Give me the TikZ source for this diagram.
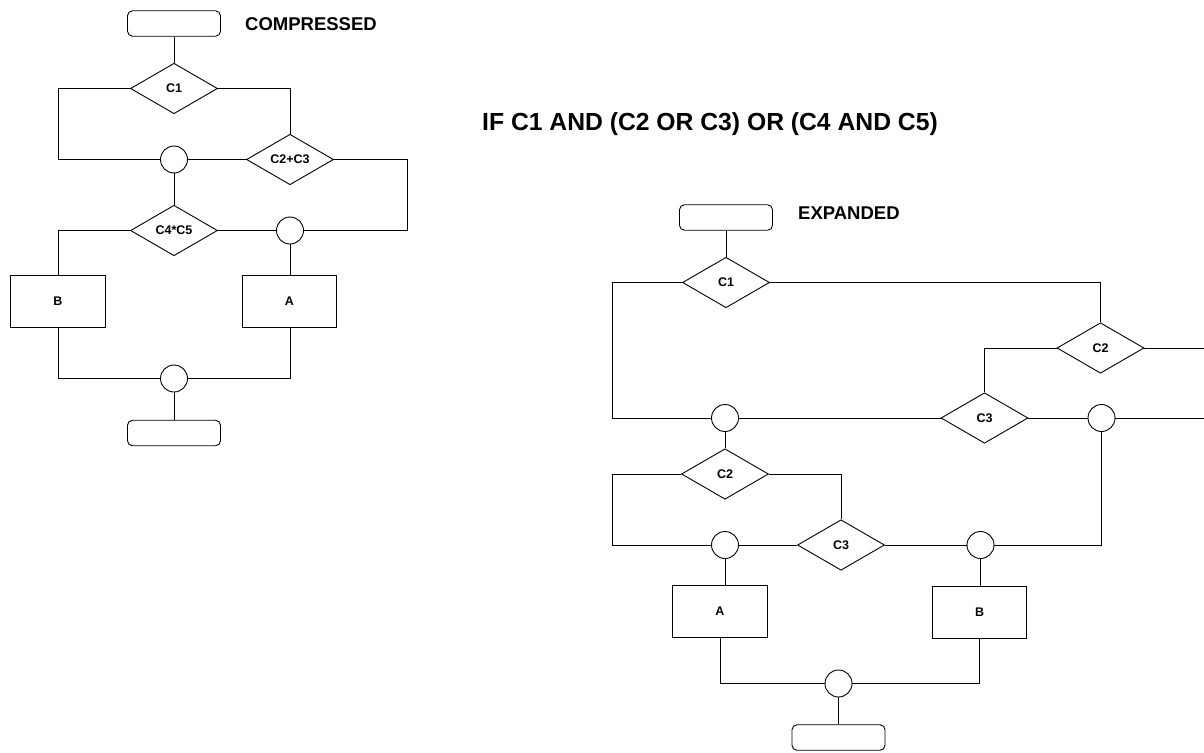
\documentclass[tikz,border=0pt]{standalone}
\usepackage{fontspec}
\setmainfont{Liberation Sans}
\usetikzlibrary{shapes.geometric}
\begin{document}
\begin{tikzpicture}[x=1pt,y=-1pt,
  every node/.style={font=\fontsize{12.5}{15}\selectfont\bfseries, inner sep=0pt},
  line/.style={draw=black, line width=0.9pt},
  termbox/.style={line, rectangle, rounded corners=5pt, minimum width=93pt, minimum height=25.5pt},
  procbox/.style={line, rectangle, minimum width=94.5pt, minimum height=52pt},
  decide/.style={line, diamond, minimum width=87pt, minimum height=50.5pt},
  junction/.style={line, circle, minimum size=27pt},
  heading/.style={anchor=west, font=\fontsize{18.5}{22}\selectfont\bfseries},
  title/.style={anchor=west, font=\fontsize{24.7}{29}\selectfont\bfseries}
]
\useasboundingbox (0,0) rectangle (1204,752);

% ---------- headings ----------
\node[heading] (hcomp) at (245,24) {COMPRESSED};
\node[title] (htitle) at (482,124) {IF C1 AND (C2 OR C3) OR (C4 AND C5)};
\node[heading] (hexp) at (798,213) {EXPANDED};

% ---------- compressed ----------
\node[termbox] (s1) at (174,23.5) {};
\node[decide] (c1) at (174,88.5) {C1};
\node[junction] (j1) at (174,159.5) {};
\node[decide] (c23) at (290,159.5) {C2+C3};
\node[decide] (c45) at (174,230.5) {C4*C5};
\node[junction] (j2) at (290,230.5) {};
\node[procbox] (b1) at (58,301) {B};
\node[procbox] (a1) at (289.5,301) {A};
\node[junction] (j3) at (174,378.5) {};
\node[termbox] (e1) at (174,433) {};
\coordinate (r1) at (407,159.5);

\draw[line] (s1.south) -- (c1.north);
\draw[line] (c1.west) -- (c1.west -| b1.north) |- (j1.west);
\draw[line] (c1.east) -| (c23.north);
\draw[line] (j1.east) -- (c23.west);
\draw[line] (c23.east) -- (r1) |- (j2.east);
\draw[line] (j1.south) -- (c45.north);
\draw[line] (c45.east) -- (j2.west);
\draw[line] (c45.west) -| (b1.north);
\draw[line] (j2.south) -- (j2.south |- a1.north);
\draw[line] (b1.south) |- (j3.west);
\draw[line] (a1.south -| j2.south) |- (j3.east);
\draw[line] (j3.south) -- (e1.north);

% ---------- expanded ----------
\coordinate (wallL) at (612.5,0);
\node[termbox] (s2) at (726,217.5) {};
\node[decide] (c1e) at (726,282.5) {C1};
\node[junction] (j1e) at (725,418) {};
\node[decide] (c2e) at (1100.5,348) {C2};
\node[decide] (c3e) at (984.5,418) {C3};
\node[junction] (jr) at (1101.5,418) {};
\coordinate (f1) at (1204,348);
\coordinate (f2) at (1204,418);
\node[decide] (c2b) at (725,474) {C2};
\node[junction] (j2e) at (725,545) {};
\node[decide] (c3b) at (841,545) {C3};
\node[junction] (j3e) at (980.5,545) {};
\node[procbox] (a2) at (720,611.5) {A};
\node[procbox] (b2) at (979.5,612.5) {B};
\node[junction] (j4) at (838.5,683.5) {};
\node[termbox] (e2) at (838.5,737.5) {};

\draw[line] (s2.south) -- (c1e.north);
\draw[line] (c1e.west) -- (c1e.west -| wallL) |- (j1e.west);
\draw[line] (c1e.east) -| (c2e.north);
\draw[line] (c2e.west) -| (c3e.north);
\draw[line] (c2e.east) -- (f1);
\draw[line] (j1e.east) -- (c3e.west);
\draw[line] (c3e.east) -- (jr.west);
\draw[line] (jr.east) -- (f2);
\draw[line] (j1e.south) -- (c2b.north);
\draw[line] (c2b.west) -- (c2b.west -| wallL) |- (j2e.west);
\draw[line] (c2b.east) -| (c3b.north);
\draw[line] (j2e.east) -- (c3b.west);
\draw[line] (c3b.east) -- (j3e.west);
\draw[line] (j3e.east) -| (jr.south);
\draw[line] (j3e.south) -- (j3e.south |- b2.north);
\draw[line] (j2e.south) -- (j2e.south |- a2.north);
\draw[line] (a2.south) |- (j4.west);
\draw[line] (b2.south) |- (j4.east);
\draw[line] (j4.south) -- (e2.north);
\end{tikzpicture}
\end{document}
